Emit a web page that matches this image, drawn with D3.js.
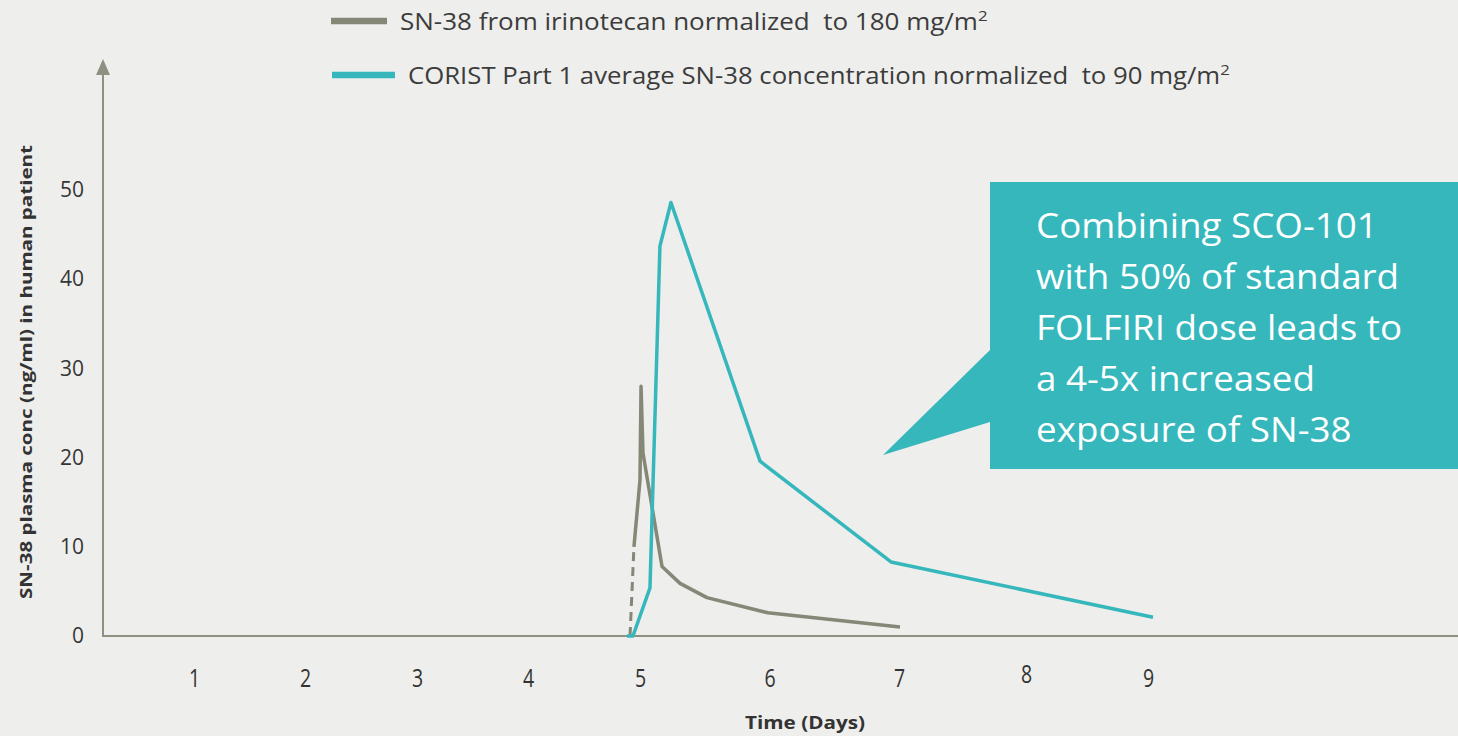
<!doctype html>
<html>
<head>
    <script src="https://d3js.org/d3.v7.min.js"></script>
    <style>
        body { margin: 0; background: #eeeeec; }
        text { font-family: "Open Sans", sans-serif; }
    </style>
</head>
<body>
    <script>
        var width = 1458;
        var height = 736;

        // day ticks along the time axis
        var dayTicks = [1, 2, 3, 4, 5, 6, 7, 8, 9];
        var dayPos = [194, 305, 417, 528, 640, 769.5, 899, 1026, 1148];
        var concTicks = [0, 10, 20, 30, 40, 50];

        // SN-38 from irinotecan (first two points are the dashed lead-in)
        var grayDays = [4.911, 4.946, 5.000, 5.008, 5.023, 5.170, 5.309, 5.517, 5.988, 7.008];
        var grayConc = [0, 10.0, 17.5, 28.0, 20.5, 7.8, 5.9, 4.3, 2.6, 1.0];
        var grayDashed = 2;

        // CORIST Part 1 average
        var cyanDays = [4.884, 4.937, 5.077, 5.154, 5.239, 5.927, 6.938, 9.041];
        var cyanConc = [0, 0, 5.4, 43.7, 48.6, 19.6, 8.3, 2.1];

        var legendNames = ["SN-38 from irinotecan normalized  to 180 mg/m", "CORIST Part 1 average SN-38 concentration normalized  to 90 mg/m"];
        var calloutLines = ["Combining SCO-101", "with 50% of standard", "FOLFIRI dose leads to", "a 4-5x increased", "exposure of SN-38"];

        var grayColor = "#858777";
        var cyanColor = "#35b7bc";
        var axisColor = "#8e9082";

        var x = d3.scaleLinear().domain(dayTicks).range(dayPos);
        var y = d3.scaleLinear().domain([0, 50]).range([636, 190]);

        var svg = d3.select("body")
                    .append("svg")
                    .attr("width", width)
                    .attr("height", height)
                    .style("background", "#eeeeec")
                    .style("display", "block");

        // squeeze a text horizontally so it spans a given width
        function fitWidth(sel, target, x0) {
            var w = sel.node().getBBox().width;
            var k = target / w;
            sel.attr("transform", "translate(" + x0 + ",0) scale(" + k + ",1) translate(" + (-x0) + ",0)");
        }

        // axes
        var yAxis = svg.append("g").attr("transform", "translate(103,0)")
                       .call(d3.axisLeft(y).tickValues(concTicks).tickSize(0).tickPadding(19));
        yAxis.select(".domain").remove();
        yAxis.selectAll("text").style("font-size", "21px").style("fill", "#363636")
             .style("font-family", "'Open Sans', sans-serif");

        svg.append("line").attr("x1", 103).attr("x2", 103).attr("y1", y(0)).attr("y2", 72)
           .style("stroke", axisColor).style("stroke-width", 2);
        svg.append("path").attr("d", "M103,59L110,75L96,75Z").style("fill", axisColor);

        svg.append("line").attr("x1", 102).attr("x2", width).attr("y1", y(0)).attr("y2", y(0))
           .style("stroke", axisColor).style("stroke-width", 2);

        var xAxis = svg.append("g").attr("transform", "translate(0," + y(0) + ")")
                       .call(d3.axisBottom(x).tickValues(dayTicks).tickSize(0).tickPadding(33));
        xAxis.select(".domain").remove();
        xAxis.selectAll("text").style("font-size", "25px").style("fill", "#333")
             .style("font-family", "'Open Sans', sans-serif")
             .attr("dy", function(d){ return d == 8 ? "0.58em" : "0.71em"; })
             .each(function(d){
                 var t = d3.select(this);
                 fitWidth(t, this.getBBox().width * 0.78, 0);
             });

        // axis titles
        svg.append("text")
           .attr("transform", "translate(32,372) rotate(-90)")
           .attr("text-anchor", "middle")
           .style("font-size", "16px").style("font-weight", "bold").style("fill", "#333")
           .attr("textLength", 454).attr("lengthAdjust", "spacingAndGlyphs")
           .text("SN-38 plasma conc (ng/ml) in human patient");

        svg.append("text")
           .attr("x", 805).attr("y", 729)
           .attr("text-anchor", "middle")
           .style("font-size", "17px").style("font-weight", "bold").style("fill", "#333")
           .attr("textLength", 120).attr("lengthAdjust", "spacingAndGlyphs")
           .text("Time (Days)");

        // lines
        var line = d3.line().x(function(d){ return x(d[0]); }).y(function(d){ return y(d[1]); });

        var grayPts = grayDays.map(function(d, i){ return [d, grayConc[i]]; });
        var cyanPts = cyanDays.map(function(d, i){ return [d, cyanConc[i]]; });

        svg.append("path").datum(grayPts.slice(0, grayDashed))
           .attr("d", line)
           .style("fill", "none").style("stroke", grayColor).style("stroke-width", 3)
           .style("stroke-dasharray", "9,6");

        svg.append("path").datum(grayPts.slice(grayDashed - 1))
           .attr("d", line)
           .style("fill", "none").style("stroke", grayColor).style("stroke-width", 3.5)
           .style("stroke-linejoin", "round");

        svg.append("path").datum(cyanPts)
           .attr("d", line)
           .style("fill", "none").style("stroke", cyanColor).style("stroke-width", 3.5)
           .style("stroke-linejoin", "round");

        // legend
        var legendY = [21, 75];
        var legendColors = [grayColor, cyanColor];
        var legendSwatch = [[331, 387], [332, 395]];
        var legendText = [[400, 588], [408, 822]];

        legendNames.forEach(function(name, i){
            svg.append("line")
               .attr("x1", legendSwatch[i][0]).attr("x2", legendSwatch[i][1])
               .attr("y1", legendY[i]).attr("y2", legendY[i])
               .style("stroke", legendColors[i]).style("stroke-width", 6.5);
            var t = svg.append("text")
               .attr("x", legendText[i][0]).attr("y", legendY[i] + 9)
               .style("font-size", "23px").style("fill", "#3c3c3c")
               .style("white-space", "pre");
            t.append("tspan").text(name);
            t.append("tspan").attr("dy", -9).style("font-size", "15px").text("2");
            fitWidth(t, legendText[i][1], legendText[i][0]);
        });

        // callout
        svg.append("path")
           .attr("d", "M990,182L1470,182L1470,469L990,469L990,422L883,455L990,350Z")
           .style("fill", "#35b7bc");

        var callout = svg.append("g");
        calloutLines.forEach(function(s, i){
            callout.append("text")
               .attr("x", 1036).attr("y", 238 + i * 51)
               .style("font-size", "35px").style("fill", "#ffffff")
               .text(s);
        });
        var firstW = callout.select("text").node().getBBox().width;
        var k = 342 / firstW;
        callout.attr("transform", "translate(1036,0) scale(" + k + ",1) translate(-1036,0)");
    </script>
</body>
</html>
